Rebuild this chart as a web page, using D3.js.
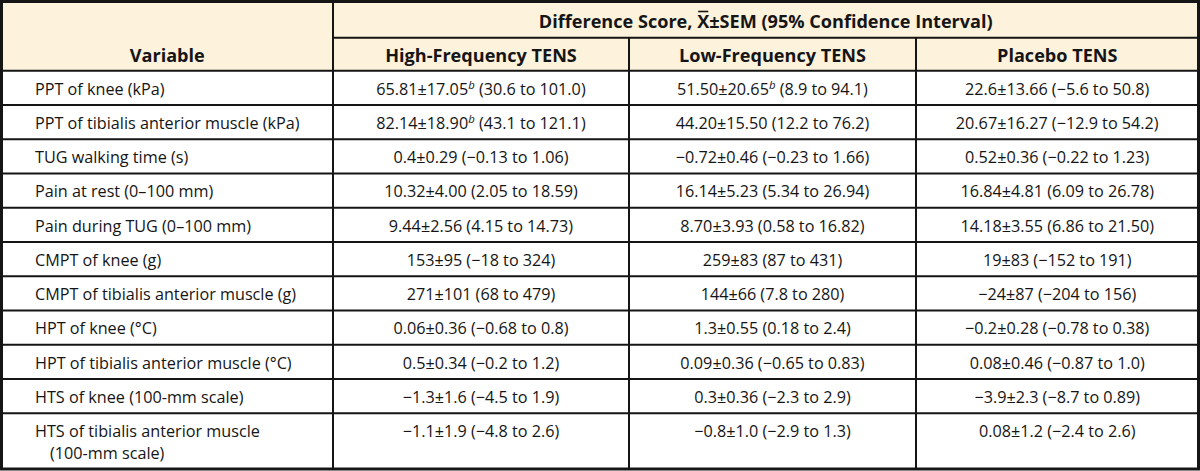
<!DOCTYPE html>
<html><head><meta charset="utf-8">
<script src="https://cdn.jsdelivr.net/npm/d3@7"></script>
<style>body{margin:0;background:#fff}svg{display:block}</style>
</head><body><svg id="t" width="1200" height="471"></svg>
<script>
// ---- data ----
const groupTitle = ["Difference Score, ", "X", "\u00B1SEM (95% Confidence Interval)"];
const columns = ["Variable", "High-Frequency TENS", "Low-Frequency TENS", "Placebo TENS"];
const variables = [
  "PPT of knee (kPa)",
  "PPT of tibialis anterior muscle (kPa)",
  "TUG walking time (s)",
  "Pain at rest (0\u2013100 mm)",
  "Pain during TUG (0\u2013100 mm)",
  "CMPT of knee (g)",
  "CMPT of tibialis anterior muscle (g)",
  "HPT of knee (\u00B0C)",
  "HPT of tibialis anterior muscle (\u00B0C)",
  "HTS of knee (100-mm scale)",
  "HTS of tibialis anterior muscle|(100-mm scale)"
];
const highFreq = [
  "65.81\u00B117.05^b (30.6 to 101.0)",
  "82.14\u00B118.90^b (43.1 to 121.1)",
  "0.4\u00B10.29 (\u22120.13 to 1.06)",
  "10.32\u00B14.00 (2.05 to 18.59)",
  "9.44\u00B12.56 (4.15 to 14.73)",
  "153\u00B195 (\u221218 to 324)",
  "271\u00B1101 (68 to 479)",
  "0.06\u00B10.36 (\u22120.68 to 0.8)",
  "0.5\u00B10.34 (\u22120.2 to 1.2)",
  "\u22121.3\u00B11.6 (\u22124.5 to 1.9)",
  "\u22121.1\u00B11.9 (\u22124.8 to 2.6)"
];
const lowFreq = [
  "51.50\u00B120.65^b (8.9 to 94.1)",
  "44.20\u00B115.50 (12.2 to 76.2)",
  "\u22120.72\u00B10.46 (\u22120.23 to 1.66)",
  "16.14\u00B15.23 (5.34 to 26.94)",
  "8.70\u00B13.93 (0.58 to 16.82)",
  "259\u00B183 (87 to 431)",
  "144\u00B166 (7.8 to 280)",
  "1.3\u00B10.55 (0.18 to 2.4)",
  "0.09\u00B10.36 (\u22120.65 to 0.83)",
  "0.3\u00B10.36 (\u22122.3 to 2.9)",
  "\u22120.8\u00B11.0 (\u22122.9 to 1.3)"
];
const placebo = [
  "22.6\u00B113.66 (\u22125.6 to 50.8)",
  "20.67\u00B116.27 (\u221212.9 to 54.2)",
  "0.52\u00B10.36 (\u22120.22 to 1.23)",
  "16.84\u00B14.81 (6.09 to 26.78)",
  "14.18\u00B13.55 (6.86 to 21.50)",
  "19\u00B183 (\u2212152 to 191)",
  "\u221224\u00B187 (\u2212204 to 156)",
  "\u22120.2\u00B10.28 (\u22120.78 to 0.38)",
  "0.08\u00B10.46 (\u22120.87 to 1.0)",
  "\u22123.9\u00B12.3 (\u22128.7 to 0.89)",
  "0.08\u00B11.2 (\u22122.4 to 2.6)"
];

// ---- layout ----
const W = 1200, H = 471;
const FONT = "'Open Sans', 'Noto Sans', sans-serif";
const bodySize = 16.2, headSize = 18.1;
const headTop = 1.5, headMid = 37.7, headBot = 70.7, tableBot = 469;
const rowUnit = 34.2, lineExtra = 21.5, baseOff = 24;
const cream = "#fdf2dc";
const ink = "#151515";

const svg = d3.select("#t");
const colX = d3.scaleOrdinal().domain(columns).range([1.5, 333, 629, 916]);
const colRight = d3.scaleOrdinal().domain(columns).range([333, 629, 916, 1198.5]);
const colMid = c => (colX(c) + colRight(c)) / 2;

// row geometry from line counts
const lines = variables.map(v => v.split("|"));
const rowHeights = lines.map(l => rowUnit + (l.length - 1) * lineExtra);
const rowStarts = [];
rowHeights.reduce((acc, h, i) => { rowStarts[i] = acc; return acc + h; }, 0);
const totalUnits = d3.sum(rowHeights);
const y = d3.scaleLinear().domain([0, totalUnits]).range([headBot, tableBot]);

// backgrounds
svg.append("rect").attr("x", 0).attr("y", 0).attr("width", W).attr("height", headBot).attr("fill", cream);

// header text
const headerRow1 = svg.append("text")
  .attr("x", (colX(columns[1]) + colRight(columns[3])) / 2)
  .attr("y", 28.3)
  .attr("text-anchor", "middle")
  .attr("font-family", FONT).attr("font-size", headSize).attr("font-weight", "bold").attr("fill", ink);
groupTitle.forEach(s => headerRow1.append("tspan").text(s));
// overline on X
{
  const node = headerRow1.node();
  const idx = groupTitle[0].length;
  const ext = node.getExtentOfChar(idx);
  svg.append("line")
    .attr("x1", ext.x + 1).attr("x2", ext.x + ext.width - 1)
    .attr("y1", ext.y + 2.2).attr("y2", ext.y + 2.2)
    .attr("stroke", ink).attr("stroke-width", 1.6);
}

svg.selectAll("text.colhead").data(columns).join("text")
  .attr("class", "colhead")
  .attr("x", d => colMid(d))
  .attr("y", (d, i) => i === 0 ? 62 : 61.5)
  .attr("text-anchor", "middle")
  .attr("font-family", FONT).attr("font-size", headSize).attr("font-weight", "bold").attr("fill", ink)
  .text(d => d);

// body text
const rows = variables.map((v, i) => ({ i, v: lines[i], vals: [highFreq[i], lowFreq[i], placebo[i]] }));
const rowG = svg.selectAll("g.row").data(rows).join("g").attr("class", "row")
  .attr("transform", d => `translate(0,${y(rowStarts[d.i])})`);

rowG.each(function (d) {
  const g = d3.select(this);
  d.v.forEach((ln, k) => {
    g.append("text")
      .attr("x", colX(columns[0]) + 33.5 + (k > 0 ? 15 : 0))
      .attr("y", baseOff + k * lineExtra)
      .attr("font-family", FONT).attr("font-size", bodySize).attr("fill", ink)
      .text(ln);
  });
  d.vals.forEach((val, j) => {
    const c = columns[j + 1];
    const t = g.append("text")
      .attr("x", colMid(c))
      .attr("y", baseOff)
      .attr("text-anchor", "middle")
      .attr("font-family", FONT).attr("font-size", bodySize).attr("fill", ink);
    const parts = val.split("^b");
    t.append("tspan").text(parts[0]);
    if (parts.length > 1) {
      t.append("tspan").attr("font-style", "italic").attr("font-size", bodySize * 0.7).attr("dy", -6).text("b");
      t.append("tspan").attr("dy", 6).text(parts[1]);
    }
  });
});

// grid lines
const hBounds = rowStarts.concat([totalUnits]);
svg.selectAll("line.h").data(hBounds).join("line").attr("class", "h")
  .attr("x1", 0).attr("x2", W)
  .attr("y1", d => y(d)).attr("y2", d => y(d))
  .attr("stroke", ink).attr("stroke-width", 2);
svg.append("line").attr("x1", colX(columns[1])).attr("x2", W)
  .attr("y1", headMid).attr("y2", headMid).attr("stroke", ink).attr("stroke-width", 2);
svg.append("line").attr("x1", colX(columns[1])).attr("x2", colX(columns[1]))
  .attr("y1", 0).attr("y2", tableBot).attr("stroke", ink).attr("stroke-width", 2);
svg.selectAll("line.v").data(columns.slice(2)).join("line").attr("class", "v")
  .attr("x1", d => colX(d)).attr("x2", d => colX(d))
  .attr("y1", headMid).attr("y2", tableBot)
  .attr("stroke", ink).attr("stroke-width", 2);
// outer border
svg.append("rect").attr("x", 1.5).attr("y", 1.5).attr("width", 1197).attr("height", tableBot - 1.5)
  .attr("fill", "none").attr("stroke", ink).attr("stroke-width", 3);
</script></body></html>
